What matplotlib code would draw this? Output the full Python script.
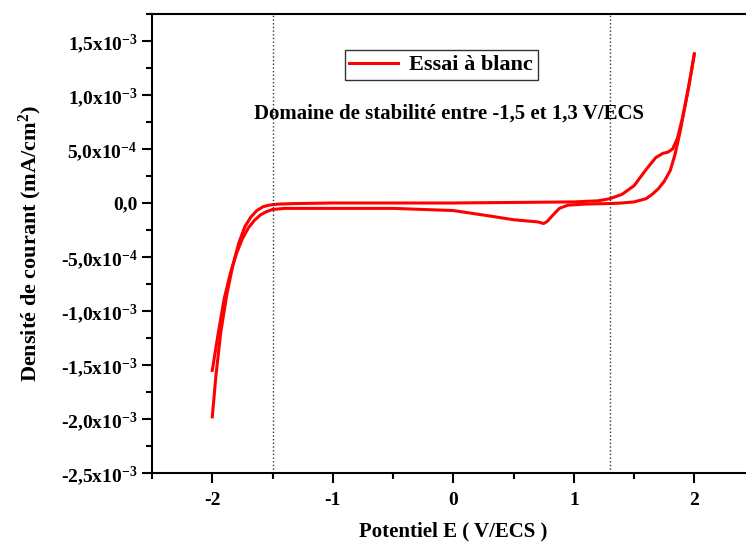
import matplotlib
matplotlib.use("Agg")
import matplotlib.pyplot as plt
import numpy as np

# potential (V/ECS) and current density (x1e-3 mA/cm2), forward scan
E_aller = [-2.0, -1.97, -1.93, -1.88, -1.83, -1.78, -1.73, -1.68, -1.63, -1.58,
           -1.53, -1.45, -1.3, -1.0, -0.5, 0.0, 0.5, 1.0, 1.2, 1.3, 1.4, 1.5,
           1.6, 1.68, 1.74, 1.78, 1.82, 1.86, 1.9, 1.94, 1.97, 2.0]
J_aller = [-1.98, -1.6, -1.2, -0.85, -0.58, -0.37, -0.22, -0.13, -0.07, -0.035,
           -0.02, -0.01, -0.005, 0.0, 0.0, 0.0, 0.005, 0.01, 0.02, 0.04, 0.08, 0.16,
           0.31, 0.42, 0.46, 0.47, 0.5, 0.6, 0.78, 1.0, 1.18, 1.38]

# reverse scan
E_retour = [2.0, 1.96, 1.92, 1.88, 1.84, 1.8, 1.75, 1.7, 1.65, 1.6, 1.5, 1.4, 1.3,
            1.1, 0.95, 0.88, 0.82, 0.78, 0.75, 0.7, 0.6, 0.5, 0.3, 0.0, -0.5, -1.0,
            -1.4, -1.5, -1.55, -1.6, -1.65, -1.7, -1.75, -1.8, -1.85, -1.9, -1.95, -2.0]
J_retour = [1.38, 1.12, 0.88, 0.65, 0.45, 0.3, 0.2, 0.13, 0.08, 0.04, 0.01, 0.0,
            -0.005, -0.01, -0.02, -0.05, -0.12, -0.17, -0.19, -0.175, -0.165, -0.155,
            -0.12, -0.07, -0.05, -0.05, -0.05, -0.06, -0.08, -0.11, -0.16, -0.23,
            -0.33, -0.47, -0.65, -0.88, -1.2, -1.55]

yticks = [1.5e-3, 1.0e-3, 5.0e-4, 0.0, -5.0e-4, -1.0e-3, -1.5e-3, -2.0e-3, -2.5e-3]
ylabels = ["1,5x10$^{-3}$", "1,0x10$^{-3}$", "5,0x10$^{-4}$", "0,0", "-5,0x10$^{-4}$",
           "-1,0x10$^{-3}$", "-1,5x10$^{-3}$", "-2,0x10$^{-3}$", "-2,5x10$^{-3}$"]
xticks = [-2, -1, 0, 1, 2]
limites = [-1.5, 1.3]

plt.rcParams['font.family'] = 'Liberation Serif'
plt.rcParams['font.weight'] = 'bold'
plt.rcParams['mathtext.fontset'] = 'custom'
plt.rcParams['mathtext.rm'] = 'Liberation Serif:bold'
plt.rcParams['mathtext.it'] = 'Liberation Serif:bold'
plt.rcParams['mathtext.default'] = 'rm'

fig = plt.figure(figsize=(7.46, 5.46), dpi=100)
ax = fig.add_axes([0.2038, 0.1337, 0.8077, 0.8407])

ax.plot(E_aller, np.array(J_aller) * 1e-3, color='red', lw=2.2, label='Essai à blanc')
ax.plot(E_retour, np.array(J_retour) * 1e-3, color='red', lw=2.2)
for x in limites:
    ax.axvline(x, color='#333333', ls=':', lw=1)

ax.set_xlim(-2.5, 2.5)
ax.set_ylim(-2.5e-3, 1.75e-3)
ax.set_xticks(xticks)
ax.set_xticklabels([str(v) for v in xticks])
ax.set_xticks(np.arange(-2.5, 2.51, 0.5), minor=True)
ax.set_yticks(yticks)
ax.set_yticklabels(ylabels)
ax.set_yticks(np.arange(-2.5e-3, 1.76e-3, 2.5e-4), minor=True)
ax.tick_params(which='major', direction='out', length=7, width=1.5, labelsize=14)
ax.tick_params(axis='x', which='major', pad=7)
ax.tick_params(which='minor', direction='out', length=4, width=1.5)
for s in ax.spines.values():
    s.set_linewidth(1.5)

ax.set_xlabel("Potentiel E ( V/ECS )", fontsize=15, fontweight='bold', labelpad=9)
ax.set_ylabel("Densité de courant (mA/cm$^2$)", fontsize=16, fontweight='bold', labelpad=12)

leg = ax.legend(loc='upper center', bbox_to_anchor=(0.48, 0.945), fancybox=False,
                edgecolor='black', prop={'size': 16, 'weight': 'bold'},
                handlelength=2.2, borderpad=0.2, handletextpad=0.5)
leg.get_frame().set_linewidth(1)
ax.text(0.493, 0.784, "Domaine de stabilité entre -1,5 et 1,3 V/ECS",
        transform=ax.transAxes, ha='center', va='center', fontsize=15, fontweight='bold')

fig.savefig("out.png", dpi=100)
